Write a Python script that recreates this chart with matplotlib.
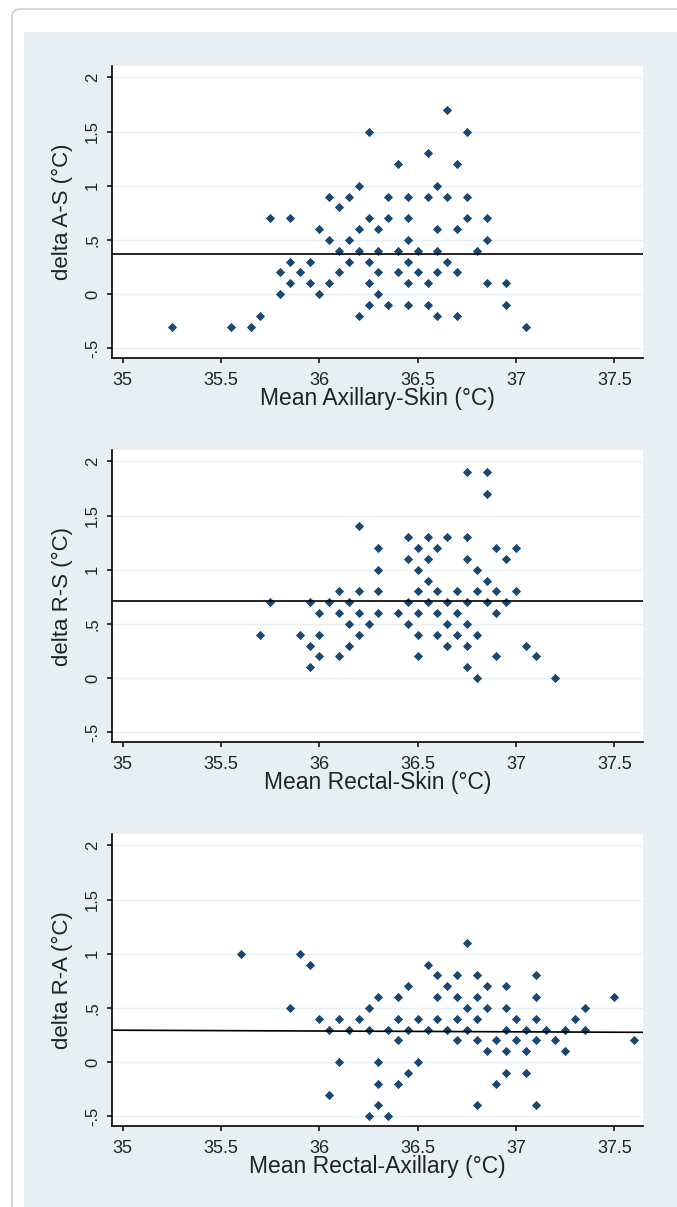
import matplotlib
matplotlib.use("Agg")
import matplotlib.pyplot as plt
from matplotlib.patches import Rectangle, FancyBboxPatch
from matplotlib.transforms import IdentityTransform

plt.rcParams['font.family'] = ['Liberation Sans', 'DejaVu Sans']

# --- data: x = mean of the two sites, one list of differences per x column ---
as_x = [35.25, 35.55, 35.65, 35.70, 35.75, 35.80, 35.85, 35.90, 35.95, 36.00,
        36.05, 36.10, 36.15, 36.20, 36.25, 36.30, 36.35, 36.40, 36.45, 36.50,
        36.55, 36.60, 36.65, 36.70, 36.75, 36.80, 36.85, 36.95, 37.05]
as_d = [[-0.3], [-0.3], [-0.3], [-0.2], [0.7], [0.2, 0.0], [0.7, 0.3, 0.1], [0.2],
        [0.3, 0.1], [0.6, 0.0], [0.9, 0.5, 0.1], [0.8, 0.4, 0.2], [0.9, 0.5, 0.3],
        [1.0, 0.6, 0.4, -0.2], [1.5, 0.7, 0.3, 0.1, -0.1], [0.6, 0.4, 0.2, 0.0],
        [0.9, 0.7, -0.1], [1.2, 0.4, 0.2], [0.9, 0.7, 0.5, 0.3, 0.1, -0.1], [0.4, 0.2],
        [1.3, 0.9, 0.1, -0.1], [1.0, 0.6, 0.4, 0.2, -0.2], [1.7, 0.9, 0.3],
        [1.2, 0.6, 0.2, -0.2], [1.5, 0.9, 0.7], [0.4], [0.7, 0.5, 0.1], [0.1, -0.1], [-0.3]]

rs_x = [35.70, 35.75, 35.90, 35.95, 36.00, 36.05, 36.10, 36.15, 36.20, 36.25,
        36.30, 36.40, 36.45, 36.50, 36.55, 36.60, 36.65, 36.70, 36.75, 36.80,
        36.85, 36.90, 36.95, 37.00, 37.05, 37.10, 37.20]
rs_d = [[0.4], [0.7], [0.4], [0.7, 0.3, 0.1], [0.6, 0.4, 0.2], [0.7], [0.8, 0.6, 0.2],
        [0.7, 0.5, 0.3], [1.4, 0.8, 0.6, 0.4], [0.5], [1.2, 1.0, 0.8, 0.6], [0.6],
        [1.3, 1.1, 0.7, 0.5], [1.2, 1.0, 0.8, 0.6, 0.4, 0.2], [1.3, 1.1, 0.9, 0.7],
        [1.2, 0.8, 0.6, 0.4], [1.3, 0.7, 0.5, 0.3], [0.8, 0.6, 0.4],
        [1.9, 1.3, 1.1, 0.7, 0.5, 0.3, 0.1], [1.0, 0.8, 0.4, 0.0], [1.9, 1.7, 0.9, 0.7],
        [1.2, 0.8, 0.6, 0.2], [1.1, 0.7], [1.2, 0.8], [0.3], [0.2], [0.0]]

ra_x = [35.60, 35.85, 35.90, 35.95, 36.00, 36.05, 36.10, 36.15, 36.20, 36.25,
        36.30, 36.35, 36.40, 36.45, 36.50, 36.55, 36.60, 36.65, 36.70, 36.75,
        36.80, 36.85, 36.90, 36.95, 37.00, 37.05, 37.10, 37.15, 37.20, 37.25,
        37.30, 37.35, 37.50, 37.60]
ra_d = [[1.0], [0.5], [1.0], [0.9], [0.4], [0.3, -0.3], [0.4, 0.0], [0.3], [0.4],
        [0.5, 0.3, -0.5], [0.6, 0.0, -0.2, -0.4], [0.3, -0.5], [0.6, 0.4, 0.2, -0.2],
        [0.7, 0.3, -0.1], [0.4, 0.0], [0.9, 0.3], [0.8, 0.6, 0.4], [0.7, 0.3],
        [0.8, 0.6, 0.4, 0.2], [1.1, 0.5, 0.3], [0.8, 0.6, 0.4, 0.2, -0.4],
        [0.7, 0.5, 0.1], [0.2, -0.2], [0.7, 0.5, 0.3, 0.1, -0.1], [0.4, 0.2],
        [0.3, 0.1, -0.1], [0.8, 0.6, 0.4, 0.2, -0.4], [0.3], [0.2], [0.3, 0.1],
        [0.4], [0.5, 0.3], [0.6], [0.2]]

# mean difference line (left end, right end)
as_mean = (0.37, 0.37)
rs_mean = (0.715, 0.715)
ra_mean = (0.295, 0.275)

xlabels = ["Mean Axillary-Skin (°C)", "Mean Rectal-Skin (°C)", "Mean Rectal-Axillary (°C)"]
ylabels = ["delta A-S (°C)", "delta R-S (°C)", "delta R-A (°C)"]
xticks = [35, 35.5, 36, 36.5, 37, 37.5]
xticklabels = ["35", "35.5", "36", "36.5", "37", "37.5"]
yticks = [2, 1.5, 1, 0.5, 0, -0.5]
yticklabels = ["2", "1.5", "1", ".5", "0", "-.5"]


def expand(xs, ds):
    px, py = [], []
    for x, col in zip(xs, ds):
        for d in col:
            px.append(x)
            py.append(d)
    return px, py


W, H = 677, 1207
fig = plt.figure(figsize=(W / 100, H / 100), dpi=100, facecolor='white')

# light graph region + thin rounded frame (pixel coords), behind the axes
bg = Rectangle((24, 0), 700, H - 32, transform=IdentityTransform(),
               facecolor='#e8eff2', edgecolor='none')
bg.set_zorder(-3)
frame = FancyBboxPatch((12, -30), 720, H - 9 + 30,
                       boxstyle="round,pad=0,rounding_size=8",
                       transform=IdentityTransform(), fill=False,
                       edgecolor='#c8c8c8', linewidth=1.0)
frame.set_zorder(-2)
fig.patches.extend([bg, frame])

navy = '#1a476f'
xlim = (34.946, 37.645)
ylim = (-0.592, 2.108)
panels = [(as_x, as_d, as_mean), (rs_x, rs_d, rs_mean), (ra_x, ra_d, ra_mean)]
bottoms = [358.3, 742.3, 1126.3]

for i, (xs, ds, mean) in enumerate(panels):
    left_px, right_px = 112, 643
    h_px = 292.6
    ax = fig.add_axes([left_px / W, 1 - bottoms[i] / H, (right_px - left_px) / W, h_px / H])
    ax.set_zorder(1)
    ax.set_facecolor('white')
    ax.set_xlim(*xlim)
    ax.set_ylim(*ylim)

    for y in yticks:
        ax.axhline(y, color='#e6eef1', lw=1.0, zorder=1)

    px, py = expand(xs, ds)
    ax.scatter(px, py, marker='D', s=22, color=navy, linewidths=0, zorder=3)
    ax.plot(xlim, mean, color='black', lw=1.2, zorder=4)

    for s in ['top', 'right']:
        ax.spines[s].set_visible(False)
    for s in ['left', 'bottom']:
        ax.spines[s].set_linewidth(1.2)
        ax.spines[s].set_color('black')

    ax.set_xticks(xticks)
    ax.set_xticklabels(xticklabels, fontsize=13, color='#222222')
    ax.set_yticks(yticks)
    ax.set_yticklabels(yticklabels, fontsize=12, color='#222222', rotation=90, va='center')
    ax.tick_params(axis='x', length=3.6, width=1.1, pad=6)
    ax.tick_params(axis='y', length=3.6, width=1.1, pad=5)

    ax.set_xlabel(xlabels[i], fontsize=16.5, color='#222222', va='center')
    ax.xaxis.set_label_coords(0.5, -40 / h_px)
    ax.set_ylabel(ylabels[i], fontsize=16, color='#222222', va='center')
    ax.yaxis.set_label_coords(-49.5 / (right_px - left_px), 0.5)

fig.savefig('out.png', dpi=100, facecolor=fig.get_facecolor())
